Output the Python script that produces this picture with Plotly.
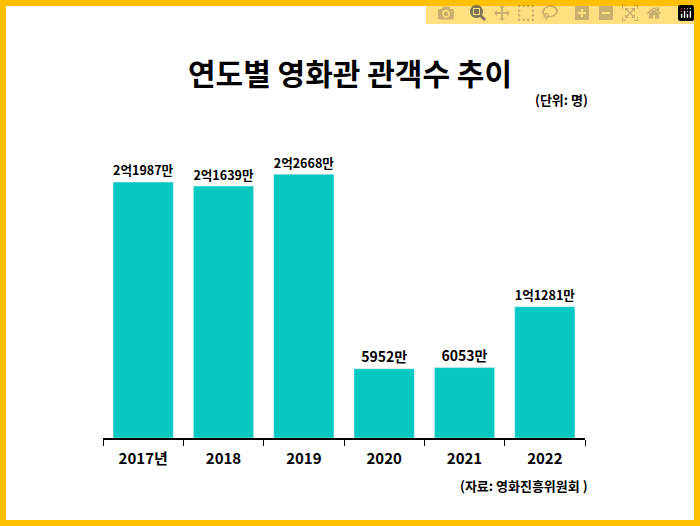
import plotly.graph_objects as go

categories = ["2017년", "2018", "2019", "2020", "2021", "2022"]
values = [219870000, 216390000, 226680000, 59520000, 60530000, 112810000]
labels = ["2억1987만", "2억1639만", "2억2668만", "5952만", "6053만", "1억1281만"]

W, H = 700, 526
L, R, T, B = 103, 115, 147, 88
pw, ph = W - L - R, H - T - B
def px(x): return (x - L) / pw
def py(y): return (H - B - y) / ph

font = "Noto Sans CJK KR"
fig = go.Figure(go.Bar(
    x=categories, y=values, marker_color="#05C9C1", width=0.75,
    text=["<b>" + s + "</b>" for s in labels], textposition="outside", cliponaxis=False,
    textfont=dict(size=14, color="black", family=font),
))
fig.update_layout(
    width=W, height=H, margin=dict(l=L, r=R, t=T, b=B),
    paper_bgcolor="#FFC000", plot_bgcolor="white", showlegend=False,
    font=dict(family=font, color="black"),
    shapes=[dict(type="rect", xref="paper", yref="paper", layer="below",
                 x0=px(6), x1=px(W - 6), y0=py(6), y1=py(H - 6),
                 fillcolor="white", line_width=0)],
    annotations=[
        dict(text="<b>연도별 영화관 관객수 추이</b>", xref="paper", yref="paper",
             x=px(350), y=py(48), showarrow=False, font=dict(size=30)),
        dict(text="<b>(단위: 명)</b>", xref="paper", yref="paper",
             x=px(590), y=py(88), xanchor="right", showarrow=False, font=dict(size=13)),
        dict(text="<b>(자료: 영화진흥위원회 )</b>", xref="paper", yref="paper",
             x=px(590), y=py(497), xanchor="right", showarrow=False, font=dict(size=13)),
    ],
)
fig.update_xaxes(showline=True, linecolor="black", linewidth=2, ticks="outside",
                 tickson="boundaries", ticklen=6, tickcolor="black", ticklabelstandoff=6,
                 tickfont=dict(size=15), tickprefix="<b>", ticksuffix="</b>")
fig.update_yaxes(range=[0, 250000000], visible=False, showgrid=False)
fig.write_html("out.html", post_script="document.body.style.margin='0';")
